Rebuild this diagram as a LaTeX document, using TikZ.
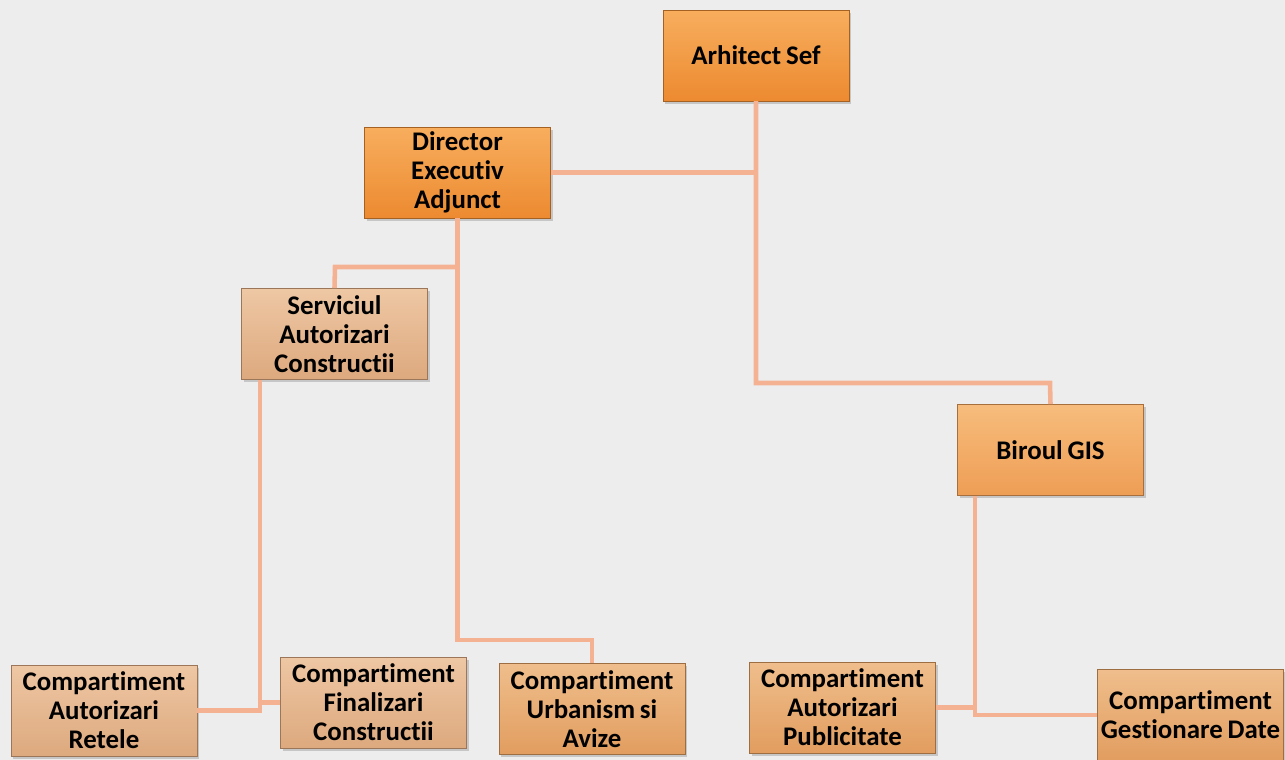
\documentclass[tikz,border=0pt]{standalone}
\usepackage{fontspec}
\setmainfont[Ligatures=NoCommon,WordSpace=0.8]{Carlito}
\usepackage{xcolor}
\usepackage{tikz}
\usetikzlibrary{positioning,shadows}
\definecolor{bgpaper}{HTML}{EDEDED}
\definecolor{linkline}{HTML}{F5B293}
\definecolor{chieftop}{HTML}{F8AE5E}
\definecolor{chiefbot}{HTML}{EC8A30}
\definecolor{officetop}{HTML}{F7BC7C}
\definecolor{officebot}{HTML}{EE9E55}
\definecolor{unittop}{HTML}{EEC7A4}
\definecolor{unitbot}{HTML}{DDA97E}
\definecolor{depttop}{HTML}{EFBE8C}
\definecolor{deptbot}{HTML}{E29D5F}
\tikzset{box/.style = {rectangle, minimum width=3.72cm, minimum height=1.82cm, align=center, inner sep=0pt,
                       font=\fontsize{15.3}{16.5}\selectfont\bfseries, drop shadow={shadow xshift=1.2pt, shadow yshift=-1.5pt, opacity=0.35}}}

\begin{document}
\begin{tikzpicture}[x=0.02cm,y=-0.02cm,
    chief/.style={box, draw=chiefbot!70!black, top color=chieftop, bottom color=chiefbot},
    office/.style={box, draw=officebot!70!black, top color=officetop, bottom color=officebot},
    unit/.style={box, draw=unitbot!70!black, top color=unittop, bottom color=unitbot},
    dept/.style={box, draw=deptbot!70!black, top color=depttop, bottom color=deptbot},
    link/.style={draw=linkline, line width=2.6pt}]
    \useasboundingbox[fill=bgpaper] (0,0) rectangle (1285,760);

    \node[chief] (arh) at (756,55.5) {Arhitect Sef};
    \node[chief] (dir) at (457.5,172.5) {Director\\Executiv\\Adjunct};
    \node[unit] (serv) at (334.5,334) {Serviciul\\Autorizari\\Constructii};
    \node[office] (gis) at (1050.5,450) {Biroul GIS};
    \node[unit] (ret) at (104,710.5) {Compartiment\\Autorizari\\Retele};
    \node[unit] (fin) at (373.5,702.5) {Compartiment\\Finalizari\\Constructii};
    \node[dept] (urb) at (592,709) {Compartiment\\Urbanism si\\Avize};
    \node[dept] (pub) at (842.5,707.5) {Compartiment\\Autorizari\\Publicitate};
    \node[dept] (ges) at (1190.5,715) {Compartiment\\Gestionare Date};

    % bends of the connectors
    \coordinate (gisup) at (1050,383);
    \coordinate (servup) at (335,267);
    \coordinate (urbup) at (592,640);
    \coordinate (sv) at (260,0);
    \coordinate (gv) at (975,0);

    \path[link] (arh.south) |- (dir.east);
    \path[link] (arh.south) |- (gisup) -- (gis.north);
    \path[link] (dir.south) |- (servup) -- (serv.north);
    \path[link] (dir.south) |- (urbup) -- (urb.north);
    \path[link] (serv.south -| sv) |- (ret.east);
    \path[link] (sv |- fin.west) -- (fin.west);
    \path[link] (gis.south -| gv) |- (ges.west);
    \path[link] (gv |- pub.east) -- (pub.east);
\end{tikzpicture}
\end{document}
